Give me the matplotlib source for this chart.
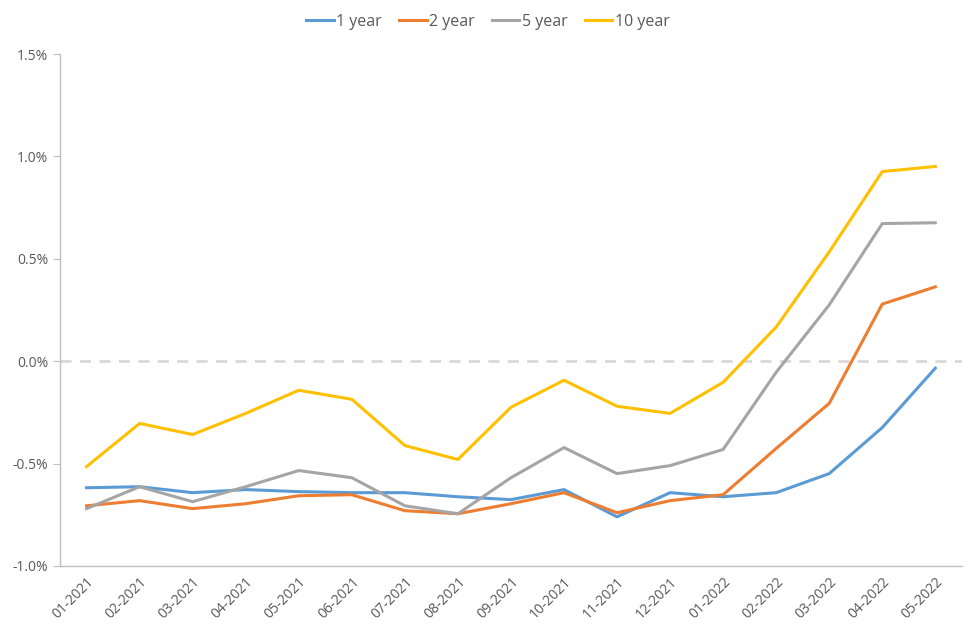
import matplotlib
matplotlib.use('Agg')
import matplotlib.pyplot as plt
from matplotlib.ticker import FuncFormatter

# Данные
months = ['01-2021', '02-2021', '03-2021', '04-2021', '05-2021', '06-2021',
          '07-2021', '08-2021', '09-2021', '10-2021', '11-2021', '12-2021',
          '01-2022', '02-2022', '03-2022', '04-2022', '05-2022']
y1 = [-0.618, -0.613, -0.642, -0.627, -0.637, -0.642, -0.642, -0.662, -0.676,
      -0.627, -0.760, -0.642, -0.662, -0.642, -0.549, -0.324, -0.034]
y2 = [-0.706, -0.681, -0.720, -0.696, -0.657, -0.652, -0.730, -0.745, -0.696,
      -0.642, -0.740, -0.681, -0.652, -0.426, -0.206, 0.279, 0.363]
y5 = [-0.720, -0.613, -0.686, -0.613, -0.534, -0.569, -0.706, -0.745, -0.569,
      -0.422, -0.549, -0.510, -0.431, -0.054, 0.275, 0.672, 0.676]
y10 = [-0.515, -0.304, -0.358, -0.255, -0.142, -0.186, -0.412, -0.480, -0.225,
       -0.093, -0.220, -0.255, -0.103, 0.167, 0.534, 0.926, 0.951]

series = [('1 year', y1, '#5B9BD5'), ('2 year', y2, '#ED7D31'),
          ('5 year', y5, '#A5A5A5'), ('10 year', y10, '#FFC000')]

plt.rcParams['font.family'] = ['Open Sans', 'DejaVu Sans']
txt = '#595959'

fig = plt.figure(figsize=(9.76, 6.37), dpi=100)
ax = fig.add_axes([0.0615, 0.1115, 0.924, 0.8037])

x = list(range(len(months)))
ax.axhline(0, color='#D9D9D9', linestyle=(0, (4, 3)), linewidth=2, zorder=1)
for name, vals, col in series:
    ax.plot(x, vals, color=col, linewidth=2.2, label=name, zorder=3)

ax.set_xlim(-0.5, len(months) - 0.5)
ax.set_ylim(-1.0, 1.5)
ax.set_yticks([-1.0, -0.5, 0.0, 0.5, 1.0, 1.5])
ax.yaxis.set_major_formatter(FuncFormatter(lambda v, p: f'{v:.1f}%'))
ax.set_xticks(x)
ax.set_xticklabels(months, rotation=45, ha='right', rotation_mode='anchor')

for s in ['top', 'right']:
    ax.spines[s].set_visible(False)
for s in ['left', 'bottom']:
    ax.spines[s].set_color('#BFBFBF')
    ax.spines[s].set_linewidth(1)
ax.tick_params(axis='y', colors='#BFBFBF', labelcolor=txt, labelsize=10, length=5)
ax.tick_params(axis='x', length=0, labelcolor=txt, labelsize=10, pad=6)

fig.legend(loc='center', bbox_to_anchor=(0.5, 1 - 22 / 637), ncol=4, frameon=False,
           fontsize=11.5, labelcolor=txt, handlelength=1.7, handletextpad=0.15,
           columnspacing=1.1)

plt.savefig('out.png')
plt.close()
